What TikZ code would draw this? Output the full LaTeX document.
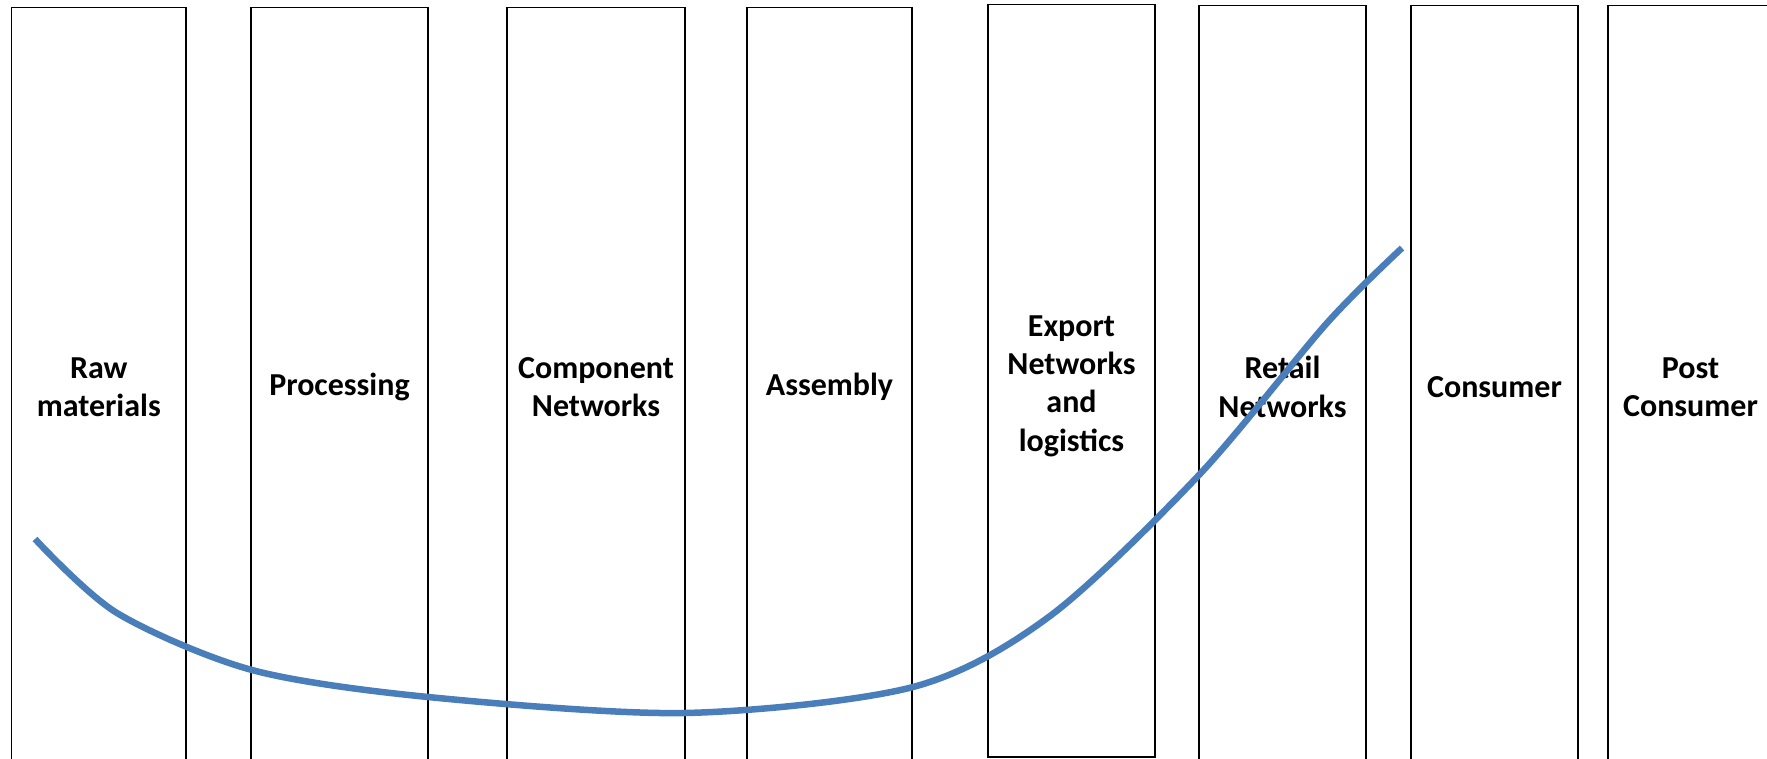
\documentclass[tikz,border=0pt]{standalone}
\usepackage{fontspec}
\setmainfont{Carlito}
\usetikzlibrary{positioning}
\definecolor{curveblue}{RGB}{74,126,187}
\tikzset{stage text/.style={align=center,inner sep=0pt,font=\fontsize{16pt}{19.2pt}\selectfont\bfseries},
stage node/.style={stage text,rectangle,draw,line width=0.75pt,outer sep=0pt,minimum height=379.3pt} }

\begin{document}
\begin{tikzpicture}[x=0.5pt,y=-0.5pt]
\useasboundingbox (0,0) rectangle (1767,759);
\clip (0,0) rectangle (1767,759);

  \node[stage node,minimum width=87.25pt] (raw) at (98.75,387) {Raw\\materials};
  \node[stage node,minimum width=88.5pt] (proc) [right=32.5pt of raw] {Processing};
  \node[stage node,minimum width=89pt] (comp) [right=39.5pt of proc] {Component\\Networks};
  \node[stage node,minimum width=82.5pt] (asm) [right=31pt of comp] {Assembly};
  \node[stage node,minimum width=83.5pt,minimum height=376.25pt,yshift=3.1pt] (exp) [right=38pt of asm] {};
  \node[stage text] (exptext) at (exp) [yshift=-2.6pt] {Export\\Networks\\and\\logistics};
  \node[stage node,minimum width=83.5pt,minimum height=381.4pt,yshift=-3.1pt] (ret) [right=22pt of exp] {Retail\\Networks};
  \node[stage node,minimum width=83.5pt,minimum height=381.4pt] (cons) [right=22.5pt of ret] {Consumer};
  \node[stage node,minimum width=82.5pt,minimum height=381.4pt] (post) [right=15pt of cons] {Post\\Consumer};

  % hand drawn trend line
  \draw[curveblue,line width=3.25pt] plot[smooth] coordinates {(35,539) (117,613) (252,670) (428,697) (685,713) (913,687) (1050,616) (1199,475) (1327,323) (1402,248)};
\end{tikzpicture}
\end{document}
